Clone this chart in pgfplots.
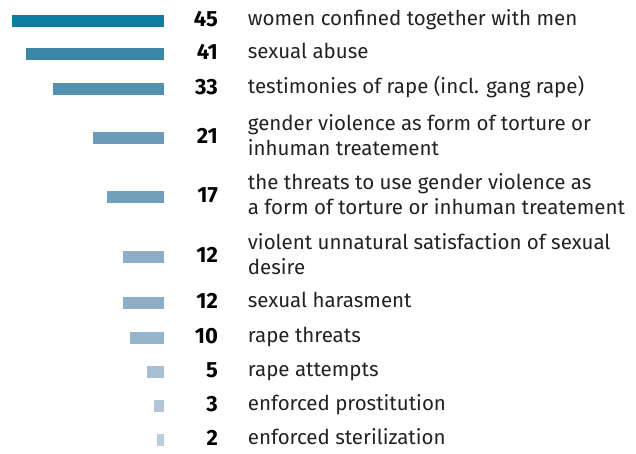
\documentclass[border=0pt]{standalone}
\usepackage{pgfplots}
\pgfplotsset{compat=1.18}
\usepackage{fontspec}
\setmainfont{Fira Sans}
\definecolor{cA}{HTML}{0E7C9E}
\definecolor{cB}{HTML}{3A86A6}
\definecolor{cC}{HTML}{5490AF}
\definecolor{cD}{HTML}{6B9BB8}
\definecolor{cE}{HTML}{71A0BB}
\definecolor{cF}{HTML}{8DAEC6}
\definecolor{cG}{HTML}{96B4CA}
\definecolor{cH}{HTML}{A8BED3}
\definecolor{cI}{HTML}{B3C6D8}
\definecolor{cJ}{HTML}{BCCDDC}
\definecolor{txt}{HTML}{222222}
\newcommand\lab[2]{\makebox[30pt][r]{\color{black}\fontsize{22}{24}\selectfont\bfseries #1}\hspace{30pt}{\color{txt}\begin{tabular}{@{}l@{}}#2\end{tabular}}}
\begin{document}
\begin{tikzpicture}
\path[use as bounding box] (0,0) rectangle (636pt,-453pt);
\begin{axis}[
  at={(0,0)}, anchor=north west,
  scale only axis, width=164pt, height=453pt,
  x dir=reverse, y dir=reverse,
  xmin=0, xmax=48.55, ymin=0, ymax=453,
  axis line style={draw=none},
  xtick=\empty,
  ytick={21,54,89,138,197,257,303,338,372,406,440},
  yticklabel pos=right,
  major tick length=0pt,
  yticklabels={
    {\lab{45}{women confined together with men}},
    {\lab{41}{sexual abuse}},
    {\lab{33}{testimonies of rape (incl. gang rape)}},
    {\lab{21}{gender violence as form of torture or\\inhuman treatement}},
    {\lab{17}{the threats to use gender violence as\\a form of torture or inhuman treatement}},
    {\lab{12}{violent unnatural satisfaction of sexual\\desire}},
    {\lab{12}{sexual harasment}},
    {\lab{10}{rape threats}},
    {\lab{5}{rape attempts}},
    {\lab{3}{enforced prostitution}},
    {\lab{2}{enforced sterilization}}
  },
  yticklabel style={anchor=west, inner sep=0pt, xshift=23.7pt, font=\fontsize{20.5}{24.5}\selectfont},
  clip=false,
]
\addplot[xbar, bar width=12pt, bar shift=0pt, fill=cA, draw=none] coordinates {(45,21)};
\addplot[xbar, bar width=12pt, bar shift=0pt, fill=cB, draw=none] coordinates {(41,54)};
\addplot[xbar, bar width=12pt, bar shift=0pt, fill=cC, draw=none] coordinates {(33,89)};
\addplot[xbar, bar width=12pt, bar shift=0pt, fill=cD, draw=none] coordinates {(21,138)};
\addplot[xbar, bar width=12pt, bar shift=0pt, fill=cE, draw=none] coordinates {(17,197)};
\addplot[xbar, bar width=12pt, bar shift=0pt, fill=cF, draw=none] coordinates {(12,257)};
\addplot[xbar, bar width=12pt, bar shift=0pt, fill=cF, draw=none] coordinates {(12,303)};
\addplot[xbar, bar width=12pt, bar shift=0pt, fill=cG, draw=none] coordinates {(10,338)};
\addplot[xbar, bar width=12pt, bar shift=0pt, fill=cH, draw=none] coordinates {(5,372)};
\addplot[xbar, bar width=12pt, bar shift=0pt, fill=cI, draw=none] coordinates {(3,406)};
\addplot[xbar, bar width=12pt, bar shift=0pt, fill=cJ, draw=none] coordinates {(2,440)};
\end{axis}
\end{tikzpicture}
\end{document}
